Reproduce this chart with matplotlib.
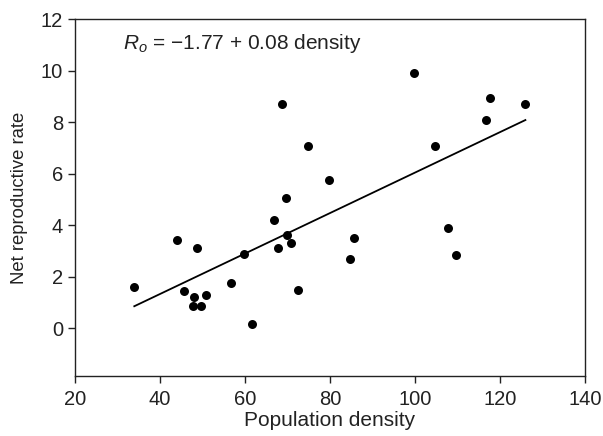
import matplotlib
matplotlib.use("Agg")
import matplotlib.pyplot as plt

plt.rcParams['font.family'] = ['Liberation Sans', 'DejaVu Sans']
plt.rcParams['mathtext.fontset'] = 'custom'
plt.rcParams['mathtext.rm'] = 'Liberation Sans'
plt.rcParams['mathtext.it'] = 'Liberation Sans:italic'

density = [34, 44, 45.6, 48, 47.8, 49.6, 50.8, 48.7, 56.7, 59.8, 61.8, 66.8, 67.8,
           69.9, 70.8, 72.5, 68.7, 69.6, 74.8, 79.8, 84.7, 85.6, 99.8, 104.7,
           107.8, 109.6, 116.7, 117.6, 125.9]
rate = [1.6, 3.42, 1.44, 1.2, 0.85, 0.85, 1.28, 3.1, 1.74, 2.87, 0.18, 4.2, 3.1,
        3.6, 3.3, 1.5, 8.7, 5.05, 7.08, 5.75, 2.68, 3.5, 9.9, 7.08,
        3.88, 2.85, 8.1, 8.93, 8.7]
fit_intercept = -1.82
fit_slope = 0.0786
fit_x = [34, 126]
equation = r'$R_o$ = −1.77 + 0.08 density'
xticks = [20, 40, 60, 80, 100, 120, 140]
yticks = [0, 2, 4, 6, 8, 10, 12]

fig = plt.figure(figsize=(6.03, 4.36), dpi=100)
ax = fig.add_axes([0.124, 0.138, 0.846, 0.818])
tc = '#222222'
ax.scatter(density, rate, s=42, color='black', zorder=3, linewidths=0)
ax.plot(fit_x, [fit_intercept + fit_slope * v for v in fit_x], color='black', lw=1.3)
ax.set_xlim(20, 140)
ax.set_ylim(-1.85, 12)
ax.set_xticks(xticks)
ax.set_yticks(yticks)
ax.tick_params(axis='both', labelsize=14.5, colors=tc, length=5, width=1,
               direction='out', pad=3.5)
ax.tick_params(axis='x', pad=5)
ax.set_xlabel('Population density', fontsize=15, color=tc, labelpad=2)
ax.set_ylabel('Net reproductive rate', fontsize=13.3, color=tc, labelpad=9)
for sp in ax.spines.values():
    sp.set_linewidth(1.0)
    sp.set_color('#222222')
ax.text(31.3, 10.85, equation, fontsize=15, color=tc, va='baseline', ha='left')
fig.savefig('out.png', dpi=100)
